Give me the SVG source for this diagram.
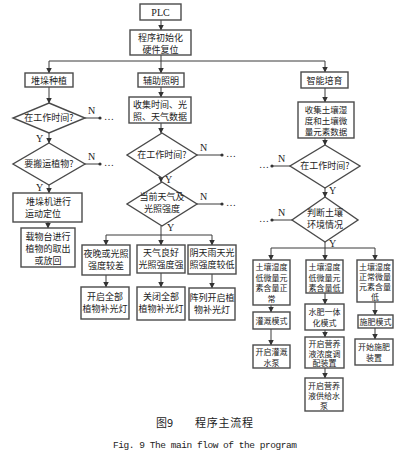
<svg xmlns="http://www.w3.org/2000/svg" width="409" height="454" viewBox="0 0 409 454">
<style>
.b{fill:#fff;stroke:#4a4a4a;stroke-width:1.4}
.t{font-family:"Noto Sans CJK SC","Noto Sans CJK JP",sans-serif;font-size:9px;fill:#222;text-anchor:middle}
.u{font-family:"Noto Sans CJK SC","Noto Sans CJK JP",sans-serif;font-size:8px;fill:#222;text-anchor:middle}
.s{font-family:"Liberation Serif",serif;font-size:10px;fill:#222}
.c path{fill:none;stroke:#3a3a3a;stroke-width:1}
.a{marker-end:url(#ar)}
</style>
<defs>
<marker id="ar" markerWidth="6" markerHeight="6" refX="5.5" refY="3" orient="auto" markerUnits="userSpaceOnUse"><path d="M0,0 L6,3 L0,6 z" fill="#333"/></marker>
</defs>
<rect width="409" height="454" fill="#fff"/>
<g class="c">
<path class="a" d="M161,20 V30"/>
<path d="M161,55 V61 M49,61 H325"/>
<path class="a" d="M49,61 V73"/><path class="a" d="M161,61 V73"/><path class="a" d="M325,61 V72"/>
<path class="a" d="M49,87 V103"/><path class="a" d="M49,133 V143"/><path class="a" d="M49,185 V193"/><path class="a" d="M48,222 V228"/>
<path class="a" d="M161,87 V97"/><path class="a" d="M161,123 V133"/><path class="a" d="M161,178 V182"/>
<path d="M161,226 V235 M106,235 H212"/>
<path class="a" d="M106,235 V245"/><path class="a" d="M161,235 V245"/><path class="a" d="M212,235 V245"/>
<path class="a" d="M106,275 V287"/><path class="a" d="M161,273 V287"/><path class="a" d="M212,274 V288"/>
<path class="a" d="M325,88 V102"/><path class="a" d="M325,138 V145"/><path class="a" d="M325,188 V197"/>
<path d="M325,242 V248 M271,248 H375"/>
<path class="a" d="M271,248 V260"/><path class="a" d="M325,248 V260"/><path class="a" d="M375,248 V260"/>
<path class="a" d="M271,305 V312"/><path class="a" d="M271,329 V345"/>
<path class="a" d="M325,293 V304"/><path class="a" d="M325,330 V337"/><path class="a" d="M325,368 V378"/>
<path class="a" d="M375,302 V315"/><path class="a" d="M375,328 V339"/>
<path d="M85,118 H100 M85,164 H100 M197,155 H222 M197,204 H222 M290,166 H272 M292,220 H272"/>
<g fill="#333"><circle cx="100" cy="118" r="1.6"/><circle cx="100" cy="164" r="1.6"/><circle cx="222" cy="155" r="1.6"/><circle cx="222" cy="204" r="1.6"/><circle cx="272" cy="166" r="1.6"/><circle cx="272" cy="220" r="1.6"/></g>
<g class="s">
<text x="88" y="114">N</text><text x="104" y="120">…</text>
<text x="88" y="160">N</text><text x="104" y="166">…</text>
<text x="36" y="142">Y</text><text x="36" y="191">Y</text>
<text x="200" y="151">N</text><text x="226" y="157">…</text>
<text x="200" y="200">N</text><text x="226" y="206">…</text>
<text x="165" y="183">Y</text><text x="167" y="231">Y</text>
<text x="278" y="162">N</text><text x="259" y="168">…</text>
<text x="278" y="216">N</text><text x="259" y="222">…</text>
<text x="329" y="194">Y</text><text x="329" y="247">Y</text>
</g>
</g>
<g id="plc"><rect class="b" x="140" y="4" width="41" height="16"/><text class="s" x="160.5" y="16" text-anchor="middle">PLC</text></g>
<g id="init"><rect class="b" x="130" y="30" width="61" height="25"/><text class="t" x="160.5" y="40.5">程序初始化</text><text class="t" x="160.5" y="52.5">硬件复位</text></g>
<g id="n1"><rect class="b" x="25" y="73" width="48" height="14"/><text class="t" x="49" y="84">堆垛种植</text></g>
<g id="n2"><rect class="b" x="138" y="73" width="46" height="14"/><text class="t" x="161" y="84">辅助照明</text></g>
<g id="n3"><rect class="b" x="301" y="72" width="47" height="16"/><text class="t" x="324.5" y="84">智能培育</text></g>
<g id="d11"><path class="b" d="M49,103 L85,118 L49,133 L13,118 Z"/><text class="t" x="49" y="121">在工作时间?</text></g>
<g id="d12"><path class="b" d="M49,143 L85,164 L49,185 L13,164 Z"/><text class="t" x="49" y="167">要搬运植物?</text></g>
<g id="b11"><rect class="b" x="13" y="193" width="69" height="29"/><text class="t" x="26" y="205" style="text-anchor:start">堆垛机进行</text><text class="t" x="25" y="217" style="text-anchor:start">运动定位</text></g>
<g id="b12"><rect class="b" x="21" y="228" width="54" height="39"/><text class="t" x="48" y="240">载物台进行</text><text class="t" x="48" y="252">植物的取出</text><text class="t" x="48" y="264">或放回</text></g>
<g id="c2"><rect class="b" x="129" y="97" width="62" height="26"/><text class="t" x="160" y="108">收集时间、光</text><text class="t" x="160" y="120">照、天气数据</text></g>
<g id="d21"><path class="b" d="M162,133 L197,155 L162,178 L127,155 Z"/><text class="t" x="162" y="158">在工作时间?</text></g>
<g id="d22"><path class="b" d="M162,182 L197,204 L162,226 L127,204 Z"/><text class="t" x="162" y="200">当前天气及</text><text class="t" x="162" y="212">光照强度</text></g>
<g id="b21"><rect class="b" x="82" y="245" width="48" height="30"/><text class="t" x="106" y="257">夜晚或光照</text><text class="t" x="106" y="269">强度较差</text></g>
<g id="b22"><rect class="b" x="137" y="245" width="48" height="28"/><text class="t" x="161" y="256">天气良好</text><text class="t" x="161" y="268">光照强度强</text></g>
<g id="b23"><rect class="b" x="188" y="245" width="48" height="29"/><text class="t" x="212" y="256">阴天雨天光</text><text class="t" x="212" y="268">照强度较低</text></g>
<g id="b24"><rect class="b" x="81" y="287" width="48" height="32"/><text class="t" x="105" y="300">开启全部</text><text class="t" x="105" y="312">植物补光灯</text></g>
<g id="b25"><rect class="b" x="137" y="287" width="48" height="33"/><text class="t" x="161" y="300">关闭全部</text><text class="t" x="161" y="312">植物补光灯</text></g>
<g id="b26"><rect class="b" x="189" y="288" width="46" height="32"/><text class="t" x="212" y="301">阵列开启植</text><text class="t" x="212" y="313">物补光灯</text></g>
<g id="c3"><rect class="b" x="298" y="102" width="56" height="36"/><text class="u" x="326" y="112.5" style="font-size:8.5px">收集土壤湿</text><text class="u" x="326" y="123.5" style="font-size:8.5px">度和土壤微</text><text class="u" x="326" y="134.5" style="font-size:8.5px">量元素数据</text></g>
<g id="d31"><path class="b" d="M325,145 L360,166 L325,188 L290,166 Z"/><text class="t" x="325" y="169">在工作时间?</text></g>
<g id="d32"><path class="b" d="M325,197 L358,220 L325,242 L292,220 Z"/><text class="t" x="325" y="216">判断土壤</text><text class="t" x="325" y="228">环境情况</text></g>
<g id="b31"><rect class="b" x="253" y="260" width="37" height="45"/><text class="u" x="271.5" y="270">土壤湿度</text><text class="u" x="271.5" y="280.5">低微量元</text><text class="u" x="271.5" y="291">素含量正</text><text class="u" x="271.5" y="301.5">常</text></g>
<g id="b32"><rect class="b" x="306" y="260" width="37" height="33"/><text class="u" x="324.5" y="270">土壤湿度</text><text class="u" x="324.5" y="280.5">低微量元</text><text class="u" x="324.5" y="291">素含量低</text></g>
<g id="b33"><rect class="b" x="357" y="260" width="36" height="42"/><text class="u" x="375" y="269.5">土壤湿度</text><text class="u" x="375" y="279.5">正常微量</text><text class="u" x="375" y="289.5">元素含量</text><text class="u" x="375" y="299.5">低</text></g>
<g id="b34"><rect class="b" x="253" y="312" width="37" height="17"/><text class="u" x="271.5" y="323.5">灌溉模式</text></g>
<g id="b35"><rect class="b" x="305" y="304" width="39" height="26"/><text class="u" x="324.5" y="315">水肥一体</text><text class="u" x="324.5" y="326">化模式</text></g>
<g id="b36"><rect class="b" x="358" y="315" width="35" height="13"/><text class="u" x="375.5" y="324.5">施肥模式</text></g>
<g id="b37"><rect class="b" x="253" y="345" width="37" height="23"/><text class="u" x="271.5" y="355">开启灌溉</text><text class="u" x="271.5" y="365.5">水泵</text></g>
<g id="b38"><rect class="b" x="305" y="337" width="39" height="31"/><text class="u" x="324.5" y="347">开启营养</text><text class="u" x="324.5" y="356.5">液浓度调</text><text class="u" x="324.5" y="366">配装置</text></g>
<g id="b39"><rect class="b" x="355" y="339" width="38" height="26"/><text class="u" x="374" y="350">开始施肥</text><text class="u" x="374" y="361">装置</text></g>
<g id="b40"><rect class="b" x="305" y="378" width="38" height="33"/><text class="u" x="324" y="388.5">开启营养</text><text class="u" x="324" y="398.5">液供给水</text><text class="u" x="324" y="408.5">泵</text></g>
<text x="156" y="427" style="font-family:'Noto Sans CJK SC',sans-serif;font-size:11px;fill:#222">图9</text>
<text x="195" y="427" textLength="58" style="font-family:'Noto Sans CJK SC',sans-serif;font-size:11px;fill:#222">程序主流程</text>
<text x="113" y="448" textLength="184" style="font-family:'Liberation Mono',monospace;font-size:9.5px;fill:#222">Fig. 9 The main flow of the program</text>
</svg>
